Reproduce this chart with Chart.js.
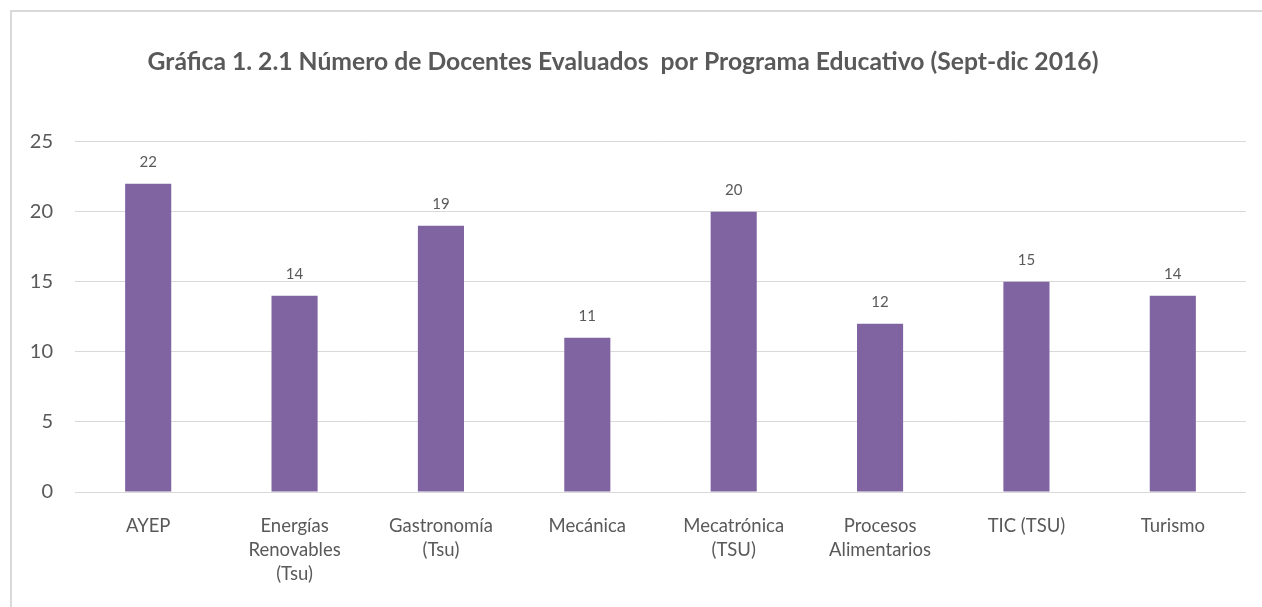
<!DOCTYPE html>
<html>
<head>
<meta charset="utf-8">
<script src="https://cdn.jsdelivr.net/npm/chart.js@4/dist/chart.umd.min.js"></script>
<style>
  html, body { margin: 0; padding: 0; background: #fff; overflow: hidden; }
  #marco { position: absolute; left: 10px; top: 10px; width: 1400px; height: 800px; border: 2px solid #d9d9d9; }
  #grafica { position: absolute; left: 0; top: 0; }
</style>
</head>
<body>
<div id="marco"></div>
<canvas id="grafica" width="1262" height="607"></canvas>
<script>
// Datos de la gráfica
const programas = [
    'AYEP',
    ['Energías', 'Renovables', '(Tsu)'],
    ['Gastronomía', '(Tsu)'],
    'Mecánica',
    ['Mecatrónica', '(TSU)'],
    ['Procesos', 'Alimentarios'],
    'TIC (TSU)',
    'Turismo'
];
const docentes = [22, 14, 19, 11, 20, 12, 15, 14];
const ticksY = [0, 5, 10, 15, 20, 25];

const colorTexto = '#595959';
const fuente = 'Lato, "Open Sans", sans-serif';

// Etiquetas de valor encima de cada barra
const etiquetasValor = {
    id: 'etiquetasValor',
    afterDatasetsDraw(chart) {
        const ctx = chart.ctx;
        const meta = chart.getDatasetMeta(0);
        ctx.save();
        ctx.font = '15px ' + fuente;
        ctx.fillStyle = colorTexto;
        ctx.textAlign = 'center';
        ctx.textBaseline = 'middle';
        meta.data.forEach((barra, i) => {
            ctx.fillText(docentes[i], barra.x, barra.y - 22);
        });
        ctx.restore();
    }
};

new Chart(document.getElementById('grafica'), {
    type: 'bar',
    data: {
        labels: programas,
        datasets: [{
            data: docentes,
            backgroundColor: '#8064a2',
            barPercentage: 0.63,
            categoryPercentage: 0.5
        }]
    },
    options: {
        responsive: false,
        animation: false,
        layout: { padding: { left: 0, right: 16, top: 0, bottom: 0 } },
        plugins: {
            legend: { display: false },
            tooltip: { enabled: false },
            title: {
                display: true,
                text: 'Gráfica 1. 2.1 Número de Docentes Evaluados  por Programa Educativo (Sept-dic 2016)',
                color: colorTexto,
                font: { family: fuente, size: 24.7, weight: 'bold', lineHeight: 1.2 },
                padding: { top: 47, bottom: 65 }
            }
        },
        scales: {
            x: {
                grid: { display: false, drawTicks: false },
                border: { display: false },
                ticks: {
                    color: colorTexto,
                    font: { family: fuente, size: 18.5, lineHeight: 1.3 },
                    padding: 22,
                    maxRotation: 0,
                    autoSkip: false
                },
                afterFit(scale) { scale.height = 115; }
            },
            y: {
                min: 0,
                max: 25,
                afterBuildTicks(scale) { scale.ticks = ticksY.map(v => ({ value: v })); },
                grid: { color: '#d9d9d9', lineWidth: 1, drawTicks: false },
                border: { display: false },
                ticks: {
                    color: colorTexto,
                    font: { family: fuente, size: 20 },
                    padding: 22
                },
                afterFit(scale) { scale.width = 75; }
            }
        }
    },
    plugins: [etiquetasValor]
});
</script>
</body>
</html>
